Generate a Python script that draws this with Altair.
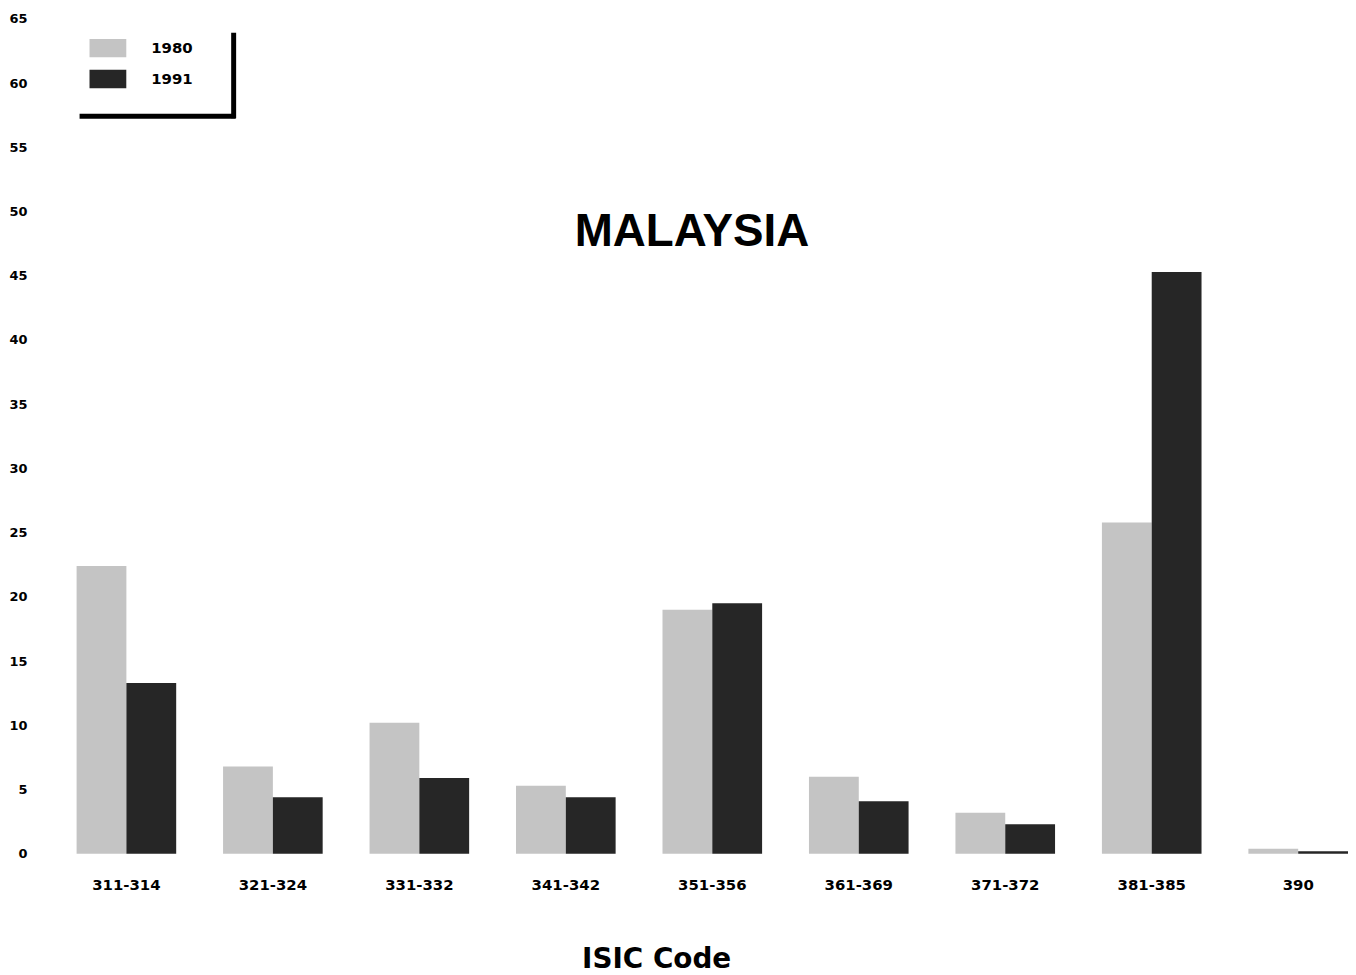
import altair as alt
import pandas as pd

codes = ["311-314", "321-324", "331-332", "341-342", "351-356",
         "361-369", "371-372", "381-385", "390"]
years = ["1980", "1991"]
v1980 = [22.4, 6.8, 10.2, 5.3, 19.0, 6.0, 3.2, 25.8, 0.4]
v1991 = [13.3, 4.4, 5.9, 4.4, 19.5, 4.1, 2.3, 45.3, 0.2]
y_ticks = list(range(0, 70, 5))
title_text = ["MALAYSIA"]

rows = []
for c, a, b in zip(codes, v1980, v1991):
    rows.append({"code": c, "year": years[0], "value": a})
    rows.append({"code": c, "year": years[1], "value": b})
df = pd.DataFrame(rows)

LBL_FONT = "DejaVu Sans"

bars = alt.Chart(df).mark_bar().encode(
    x=alt.X(
        "code:N", sort=codes,
        scale=alt.Scale(paddingInner=0.32, paddingOuter=0),
        axis=alt.Axis(
            title="ISIC Code", labelAngle=0, domain=False, ticks=False,
            labelPadding=24, labelFont=LBL_FONT, labelFontWeight="bold",
            labelFontSize=15, labelColor="black",
            titleFont=LBL_FONT, titleFontSize=28, titleFontWeight="bold",
            titleColor="black", titleX=583, titleY=106,
            titleBaseline="middle", titleAlign="center",
        ),
    ),
    xOffset=alt.XOffset("year:N", sort=years,
                        scale=alt.Scale(paddingInner=0, paddingOuter=0)),
    y=alt.Y(
        "value:Q", scale=alt.Scale(domain=[0, 65], nice=False),
        axis=alt.Axis(
            values=y_ticks, title=None, grid=False, domain=False, ticks=False,
            labelPadding=50, labelFont=LBL_FONT, labelFontWeight="bold",
            labelFontSize=13, labelColor="black",
        ),
    ),
    color=alt.Color(
        "year:N",
        scale=alt.Scale(domain=years, range=["#c4c4c4", "#262626"]),
        legend=alt.Legend(
            title=None, orient="none", legendX=13, legendY=11, padding=0,
            symbolType="M-1,-0.5H1V0.5H-1Z", symbolSize=1369,
            symbolStrokeWidth=0, symbolOpacity=1,
            labelFont=LBL_FONT, labelFontWeight="bold", labelFontSize=15,
            labelColor="black", labelOffset=25, rowPadding=3,
        ),
    ),
)

one = pd.DataFrame({"t": title_text})

title = alt.Chart(one).mark_text(
    font="Liberation Sans", fontSize=46, fontWeight="bold", color="black",
    align="center", baseline="middle",
).encode(x=alt.value(619), y=alt.value(215), text="t:N")

shadow_v = alt.Chart(one).mark_rule(color="black", strokeWidth=5).encode(
    x=alt.value(158), y=alt.value(14), y2=alt.value(100))
shadow_h = alt.Chart(one).mark_rule(color="black", strokeWidth=5).encode(
    x=alt.value(3), x2=alt.value(160), y=alt.value(98))

chart = alt.layer(bars, title, shadow_v, shadow_h).properties(
    width=1279, height=840,
    autosize=alt.AutoSizeParams(type="none"),
    padding={"left": 69, "top": 8, "right": 0, "bottom": 119},
    background="white",
).configure_view(stroke=None)

chart.save("out.html", embed_options={"renderer": "svg", "actions": False})
